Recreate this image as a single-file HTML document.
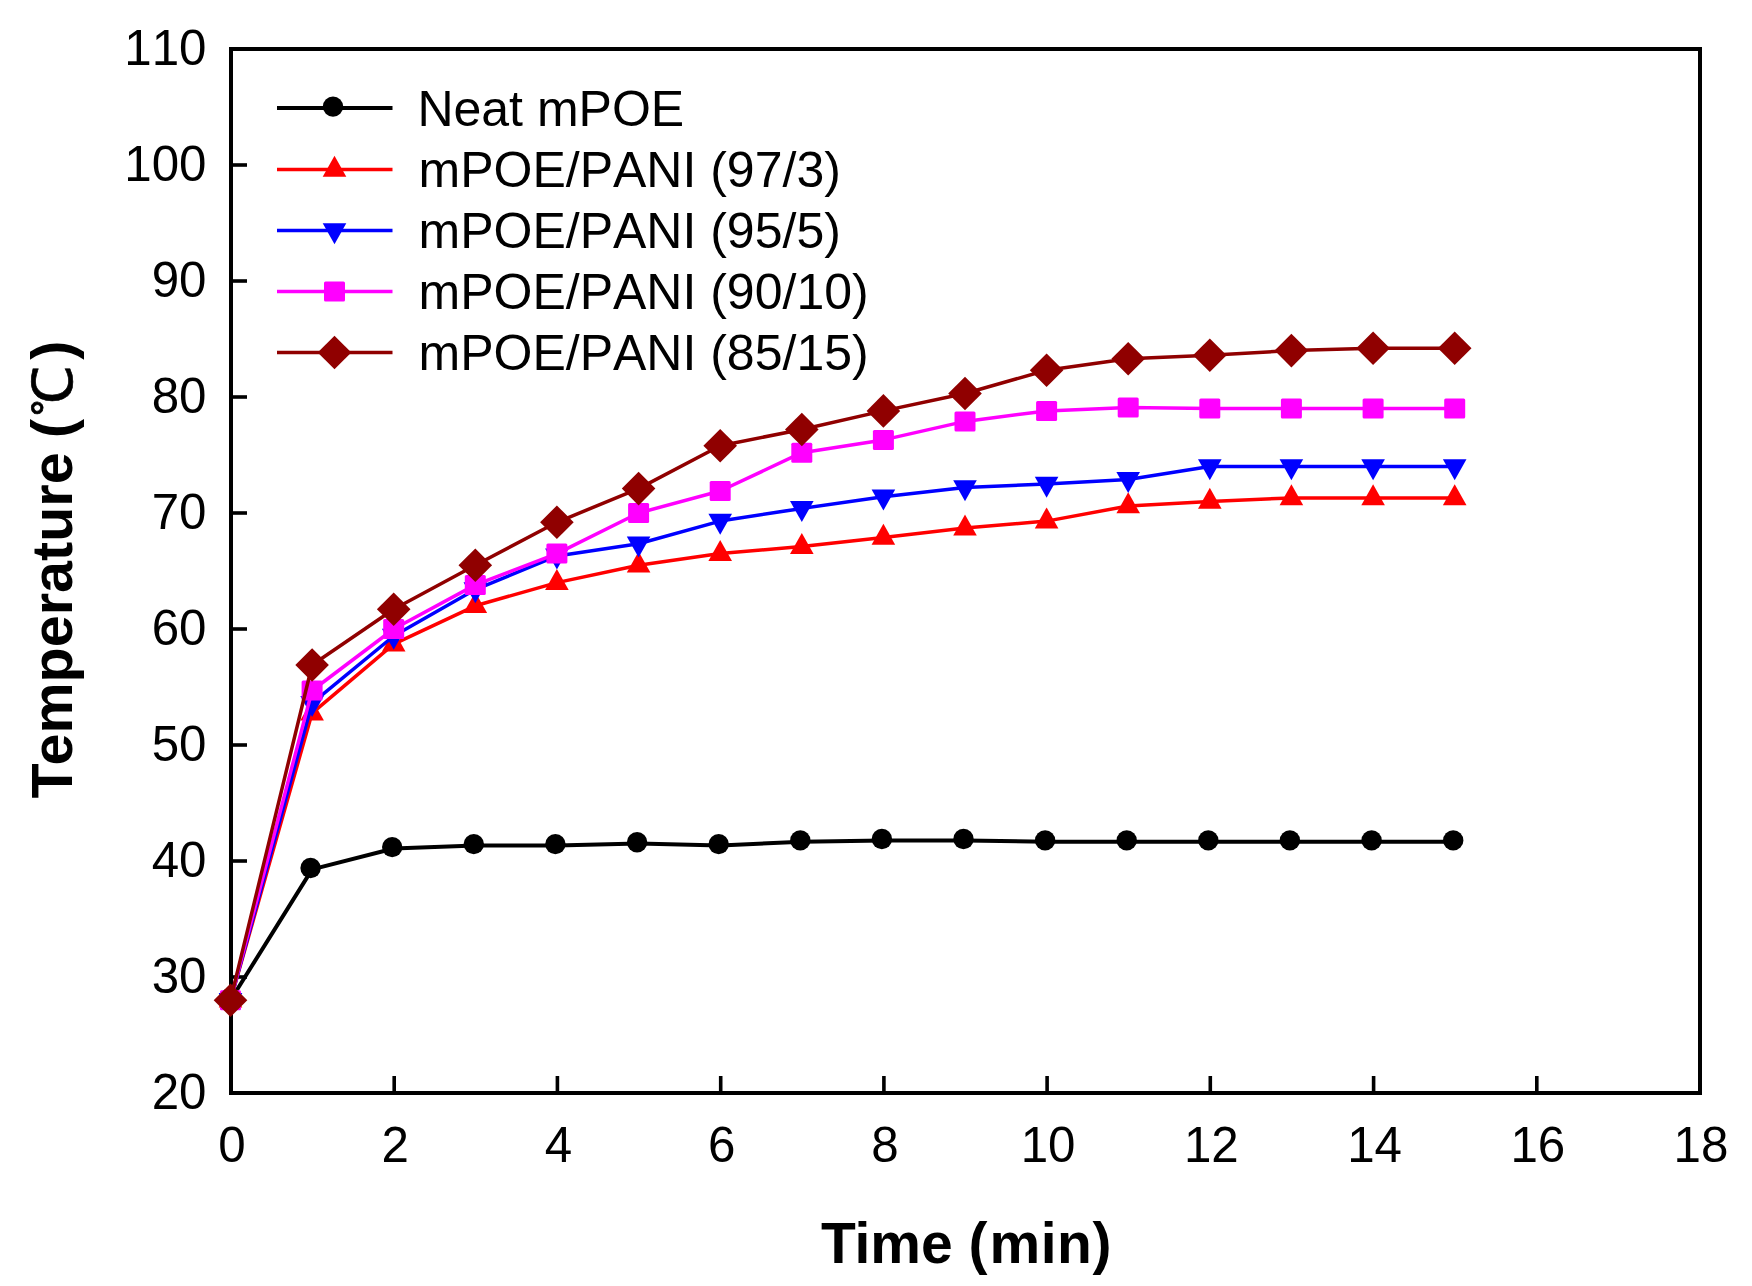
<!DOCTYPE html>
<html lang="en"><head><meta charset="utf-8"><title>Temperature vs Time</title>
<style>
html,body{margin:0;padding:0;background:#fff;}
body{width:1752px;height:1286px;overflow:hidden;}
svg{display:block;}
text{font-kerning:none;font-variant-ligatures:none;font-family:"Liberation Sans","Noto Sans CJK KR",sans-serif;fill:#000;}
.tick{font-size:49.3px;}
.leg{font-size:50px;}
.ttl{font-size:57.5px;font-weight:bold;}
</style></head><body>
<svg width="1752" height="1286" viewBox="0 0 1752 1286">
<rect x="0" y="0" width="1752" height="1286" fill="#ffffff"/>

<rect x="231.0" y="49.0" width="1469.0" height="1044.0" fill="none" stroke="#000" stroke-width="4"/>
<line x1="231.0" y1="977.0" x2="247.0" y2="977.0" stroke="#000" stroke-width="3.6"/>
<line x1="231.0" y1="861.0" x2="247.0" y2="861.0" stroke="#000" stroke-width="3.6"/>
<line x1="231.0" y1="745.0" x2="247.0" y2="745.0" stroke="#000" stroke-width="3.6"/>
<line x1="231.0" y1="629.0" x2="247.0" y2="629.0" stroke="#000" stroke-width="3.6"/>
<line x1="231.0" y1="513.0" x2="247.0" y2="513.0" stroke="#000" stroke-width="3.6"/>
<line x1="231.0" y1="397.0" x2="247.0" y2="397.0" stroke="#000" stroke-width="3.6"/>
<line x1="231.0" y1="281.0" x2="247.0" y2="281.0" stroke="#000" stroke-width="3.6"/>
<line x1="231.0" y1="165.0" x2="247.0" y2="165.0" stroke="#000" stroke-width="3.6"/>
<line x1="394.2" y1="1093.0" x2="394.2" y2="1076.0" stroke="#000" stroke-width="3.6"/>
<line x1="557.4" y1="1093.0" x2="557.4" y2="1076.0" stroke="#000" stroke-width="3.6"/>
<line x1="720.7" y1="1093.0" x2="720.7" y2="1076.0" stroke="#000" stroke-width="3.6"/>
<line x1="883.9" y1="1093.0" x2="883.9" y2="1076.0" stroke="#000" stroke-width="3.6"/>
<line x1="1047.1" y1="1093.0" x2="1047.1" y2="1076.0" stroke="#000" stroke-width="3.6"/>
<line x1="1210.3" y1="1093.0" x2="1210.3" y2="1076.0" stroke="#000" stroke-width="3.6"/>
<line x1="1373.6" y1="1093.0" x2="1373.6" y2="1076.0" stroke="#000" stroke-width="3.6"/>
<line x1="1536.8" y1="1093.0" x2="1536.8" y2="1076.0" stroke="#000" stroke-width="3.6"/>
<polyline points="230.5,1000.2 312.1,869.4 393.7,848.5 475.3,845.5 556.9,845.5 638.6,843.6 720.2,845.5 801.8,841.8 883.4,840.4 965.0,840.4 1046.6,841.8 1128.2,841.8 1209.8,841.8 1291.4,841.8 1373.1,841.8 1454.7,841.8" fill="none" stroke="#000000" stroke-width="4" stroke-linejoin="round"/>
<circle cx="229.0" cy="998.8" r="10.2" fill="#000000"/>
<circle cx="310.6" cy="868.0" r="10.2" fill="#000000"/>
<circle cx="392.2" cy="847.1" r="10.2" fill="#000000"/>
<circle cx="473.8" cy="844.1" r="10.2" fill="#000000"/>
<circle cx="555.4" cy="844.1" r="10.2" fill="#000000"/>
<circle cx="637.1" cy="842.2" r="10.2" fill="#000000"/>
<circle cx="718.7" cy="844.1" r="10.2" fill="#000000"/>
<circle cx="800.3" cy="840.4" r="10.2" fill="#000000"/>
<circle cx="881.9" cy="839.0" r="10.2" fill="#000000"/>
<circle cx="963.5" cy="839.0" r="10.2" fill="#000000"/>
<circle cx="1045.1" cy="840.4" r="10.2" fill="#000000"/>
<circle cx="1126.7" cy="840.4" r="10.2" fill="#000000"/>
<circle cx="1208.3" cy="840.4" r="10.2" fill="#000000"/>
<circle cx="1289.9" cy="840.4" r="10.2" fill="#000000"/>
<circle cx="1371.6" cy="840.4" r="10.2" fill="#000000"/>
<circle cx="1453.2" cy="840.4" r="10.2" fill="#000000"/>
<polyline points="230.5,1000.2 312.1,713.1 393.7,644.1 475.3,605.8 556.9,582.6 638.6,565.2 720.2,553.6 801.8,546.6 883.4,537.4 965.0,528.1 1046.6,521.1 1128.2,506.0 1209.8,501.4 1291.4,497.9 1373.1,497.9 1454.7,497.9" fill="none" stroke="#ff0000" stroke-width="3.5" stroke-linejoin="round"/>
<polygon points="230.5,986.5 242.3,1007.5 218.7,1007.5" fill="#ff0000"/>
<polygon points="312.1,699.4 323.9,720.4 300.3,720.4" fill="#ff0000"/>
<polygon points="393.7,630.4 405.5,651.4 381.9,651.4" fill="#ff0000"/>
<polygon points="475.3,592.1 487.1,613.1 463.5,613.1" fill="#ff0000"/>
<polygon points="556.9,568.9 568.7,589.9 545.1,589.9" fill="#ff0000"/>
<polygon points="638.6,551.5 650.4,572.5 626.8,572.5" fill="#ff0000"/>
<polygon points="720.2,539.9 732.0,560.9 708.4,560.9" fill="#ff0000"/>
<polygon points="801.8,532.9 813.6,553.9 790.0,553.9" fill="#ff0000"/>
<polygon points="883.4,523.7 895.2,544.7 871.6,544.7" fill="#ff0000"/>
<polygon points="965.0,514.4 976.8,535.4 953.2,535.4" fill="#ff0000"/>
<polygon points="1046.6,507.4 1058.4,528.4 1034.8,528.4" fill="#ff0000"/>
<polygon points="1128.2,492.3 1140.0,513.3 1116.4,513.3" fill="#ff0000"/>
<polygon points="1209.8,487.7 1221.6,508.7 1198.0,508.7" fill="#ff0000"/>
<polygon points="1291.4,484.2 1303.2,505.2 1279.6,505.2" fill="#ff0000"/>
<polygon points="1373.1,484.2 1384.9,505.2 1361.3,505.2" fill="#ff0000"/>
<polygon points="1454.7,484.2 1466.5,505.2 1442.9,505.2" fill="#ff0000"/>
<polyline points="230.5,1000.2 312.1,703.2 393.7,636.0 475.3,589.6 556.9,555.9 638.6,543.7 720.2,521.1 801.8,508.4 883.4,496.8 965.0,487.5 1046.6,484.0 1128.2,479.4 1209.8,466.6 1291.4,466.6 1373.1,466.6 1454.7,466.6" fill="none" stroke="#0000ff" stroke-width="3.5" stroke-linejoin="round"/>
<polygon points="230.5,1013.9 242.3,992.9 218.7,992.9" fill="#0000ff"/>
<polygon points="312.1,716.9 323.9,695.9 300.3,695.9" fill="#0000ff"/>
<polygon points="393.7,649.7 405.5,628.7 381.9,628.7" fill="#0000ff"/>
<polygon points="475.3,603.3 487.1,582.3 463.5,582.3" fill="#0000ff"/>
<polygon points="556.9,569.6 568.7,548.6 545.1,548.6" fill="#0000ff"/>
<polygon points="638.6,557.4 650.4,536.4 626.8,536.4" fill="#0000ff"/>
<polygon points="720.2,534.8 732.0,513.8 708.4,513.8" fill="#0000ff"/>
<polygon points="801.8,522.1 813.6,501.1 790.0,501.1" fill="#0000ff"/>
<polygon points="883.4,510.5 895.2,489.5 871.6,489.5" fill="#0000ff"/>
<polygon points="965.0,501.2 976.8,480.2 953.2,480.2" fill="#0000ff"/>
<polygon points="1046.6,497.7 1058.4,476.7 1034.8,476.7" fill="#0000ff"/>
<polygon points="1128.2,493.1 1140.0,472.1 1116.4,472.1" fill="#0000ff"/>
<polygon points="1209.8,480.3 1221.6,459.3 1198.0,459.3" fill="#0000ff"/>
<polygon points="1291.4,480.3 1303.2,459.3 1279.6,459.3" fill="#0000ff"/>
<polygon points="1373.1,480.3 1384.9,459.3 1361.3,459.3" fill="#0000ff"/>
<polygon points="1454.7,480.3 1466.5,459.3 1442.9,459.3" fill="#0000ff"/>
<polyline points="230.5,1000.2 312.1,690.5 393.7,629.0 475.3,584.9 556.9,553.6 638.6,513.0 720.2,491.0 801.8,452.7 883.4,439.9 965.0,421.4 1046.6,410.9 1128.2,407.4 1209.8,408.6 1291.4,408.6 1373.1,408.6 1454.7,408.6" fill="none" stroke="#ff00ff" stroke-width="3.5" stroke-linejoin="round"/>
<rect x="220.0" y="990.2" width="21" height="20" rx="1.5" fill="#ff00ff"/>
<rect x="301.6" y="680.5" width="21" height="20" rx="1.5" fill="#ff00ff"/>
<rect x="383.2" y="619.0" width="21" height="20" rx="1.5" fill="#ff00ff"/>
<rect x="464.8" y="574.9" width="21" height="20" rx="1.5" fill="#ff00ff"/>
<rect x="546.4" y="543.6" width="21" height="20" rx="1.5" fill="#ff00ff"/>
<rect x="628.1" y="503.0" width="21" height="20" rx="1.5" fill="#ff00ff"/>
<rect x="709.7" y="481.0" width="21" height="20" rx="1.5" fill="#ff00ff"/>
<rect x="791.3" y="442.7" width="21" height="20" rx="1.5" fill="#ff00ff"/>
<rect x="872.9" y="429.9" width="21" height="20" rx="1.5" fill="#ff00ff"/>
<rect x="954.5" y="411.4" width="21" height="20" rx="1.5" fill="#ff00ff"/>
<rect x="1036.1" y="400.9" width="21" height="20" rx="1.5" fill="#ff00ff"/>
<rect x="1117.7" y="397.4" width="21" height="20" rx="1.5" fill="#ff00ff"/>
<rect x="1199.3" y="398.6" width="21" height="20" rx="1.5" fill="#ff00ff"/>
<rect x="1280.9" y="398.6" width="21" height="20" rx="1.5" fill="#ff00ff"/>
<rect x="1362.6" y="398.6" width="21" height="20" rx="1.5" fill="#ff00ff"/>
<rect x="1444.2" y="398.6" width="21" height="20" rx="1.5" fill="#ff00ff"/>
<polyline points="230.5,1000.2 312.1,665.0 393.7,609.3 475.3,565.2 556.9,522.3 638.6,488.6 720.2,445.7 801.8,429.5 883.4,410.9 965.0,393.5 1046.6,370.3 1128.2,358.7 1209.8,355.2 1291.4,350.6 1373.1,348.3 1454.7,348.3" fill="none" stroke="#900000" stroke-width="3.5" stroke-linejoin="round"/>
<polygon points="230.5,983.4 247.3,1000.2 230.5,1017.0 213.7,1000.2" fill="#900000"/>
<polygon points="312.1,648.2 328.9,665.0 312.1,681.8 295.3,665.0" fill="#900000"/>
<polygon points="393.7,592.5 410.5,609.3 393.7,626.1 376.9,609.3" fill="#900000"/>
<polygon points="475.3,548.4 492.1,565.2 475.3,582.0 458.5,565.2" fill="#900000"/>
<polygon points="556.9,505.5 573.7,522.3 556.9,539.1 540.1,522.3" fill="#900000"/>
<polygon points="638.6,471.8 655.4,488.6 638.6,505.4 621.8,488.6" fill="#900000"/>
<polygon points="720.2,428.9 737.0,445.7 720.2,462.5 703.4,445.7" fill="#900000"/>
<polygon points="801.8,412.7 818.6,429.5 801.8,446.3 785.0,429.5" fill="#900000"/>
<polygon points="883.4,394.1 900.2,410.9 883.4,427.7 866.6,410.9" fill="#900000"/>
<polygon points="965.0,376.7 981.8,393.5 965.0,410.3 948.2,393.5" fill="#900000"/>
<polygon points="1046.6,353.5 1063.4,370.3 1046.6,387.1 1029.8,370.3" fill="#900000"/>
<polygon points="1128.2,341.9 1145.0,358.7 1128.2,375.5 1111.4,358.7" fill="#900000"/>
<polygon points="1209.8,338.4 1226.6,355.2 1209.8,372.0 1193.0,355.2" fill="#900000"/>
<polygon points="1291.4,333.8 1308.2,350.6 1291.4,367.4 1274.6,350.6" fill="#900000"/>
<polygon points="1373.1,331.5 1389.9,348.3 1373.1,365.1 1356.3,348.3" fill="#900000"/>
<polygon points="1454.7,331.5 1471.5,348.3 1454.7,365.1 1437.9,348.3" fill="#900000"/>
<text class="tick" x="206.5" y="1109.2" text-anchor="end">20</text>
<text class="tick" x="206.5" y="993.2" text-anchor="end">30</text>
<text class="tick" x="206.5" y="877.2" text-anchor="end">40</text>
<text class="tick" x="206.5" y="761.2" text-anchor="end">50</text>
<text class="tick" x="206.5" y="645.2" text-anchor="end">60</text>
<text class="tick" x="206.5" y="529.2" text-anchor="end">70</text>
<text class="tick" x="206.5" y="413.2" text-anchor="end">80</text>
<text class="tick" x="206.5" y="297.2" text-anchor="end">90</text>
<text class="tick" x="206.5" y="181.2" text-anchor="end">100</text>
<text class="tick" x="206.5" y="65.2" text-anchor="end">110</text>
<text class="tick" x="232.0" y="1162" text-anchor="middle">0</text>
<text class="tick" x="395.2" y="1162" text-anchor="middle">2</text>
<text class="tick" x="558.4" y="1162" text-anchor="middle">4</text>
<text class="tick" x="721.7" y="1162" text-anchor="middle">6</text>
<text class="tick" x="884.9" y="1162" text-anchor="middle">8</text>
<text class="tick" x="1048.1" y="1162" text-anchor="middle">10</text>
<text class="tick" x="1211.3" y="1162" text-anchor="middle">12</text>
<text class="tick" x="1374.6" y="1162" text-anchor="middle">14</text>
<text class="tick" x="1537.8" y="1162" text-anchor="middle">16</text>
<text class="tick" x="1701.0" y="1162" text-anchor="middle">18</text>
<line x1="277" y1="108.0" x2="392.5" y2="108.0" stroke="#000000" stroke-width="4"/>
<circle cx="333.0" cy="106.6" r="10.2" fill="#000000"/>
<text class="leg" x="417.4" y="125.8">Neat mPOE</text>
<line x1="277" y1="169.5" x2="392.5" y2="169.5" stroke="#ff0000" stroke-width="3.4"/>
<polygon points="334.5,155.8 346.3,176.8 322.7,176.8" fill="#ff0000"/>
<text class="leg" x="418.5" y="187.3">mPOE/PANI (97/3)</text>
<line x1="277" y1="230.5" x2="392.5" y2="230.5" stroke="#0000ff" stroke-width="3.4"/>
<polygon points="334.5,244.2 346.3,223.2 322.7,223.2" fill="#0000ff"/>
<text class="leg" x="418.5" y="248.3">mPOE/PANI (95/5)</text>
<line x1="277" y1="291.5" x2="392.5" y2="291.5" stroke="#ff00ff" stroke-width="3.4"/>
<rect x="324.0" y="281.5" width="21" height="20" rx="1.5" fill="#ff00ff"/>
<text class="leg" x="418.5" y="309.3">mPOE/PANI (90/10)</text>
<line x1="277" y1="352.5" x2="392.5" y2="352.5" stroke="#900000" stroke-width="3.4"/>
<polygon points="334.5,335.7 351.3,352.5 334.5,369.3 317.7,352.5" fill="#900000"/>
<text class="leg" x="418.5" y="370.3">mPOE/PANI (85/15)</text>
<text class="ttl" style="font-size:57px" x="820.9" y="1262.7">T<tspan dx="-1.3">i</tspan>me <tspan dx="0">(</tspan><tspan dx="2">m</tspan><tspan dx="0.5">i</tspan><tspan dx="0.4">n</tspan><tspan dx="0.7">)</tspan></text>
<text class="ttl" transform="translate(72.3,0) rotate(-90)"><tspan x="-798.6" y="0">T</tspan><tspan x="-765.5">emperature</tspan><tspan x="-454"> </tspan><tspan x="-438.1">(</tspan><tspan x="-416.5" font-weight="normal" font-size="55" stroke="#000" stroke-width="0.7" font-family="WenQuanYi Zen Hei, Noto Sans CJK KR, sans-serif">℃</tspan><tspan x="-359.8">)</tspan></text>
</svg></body></html>
